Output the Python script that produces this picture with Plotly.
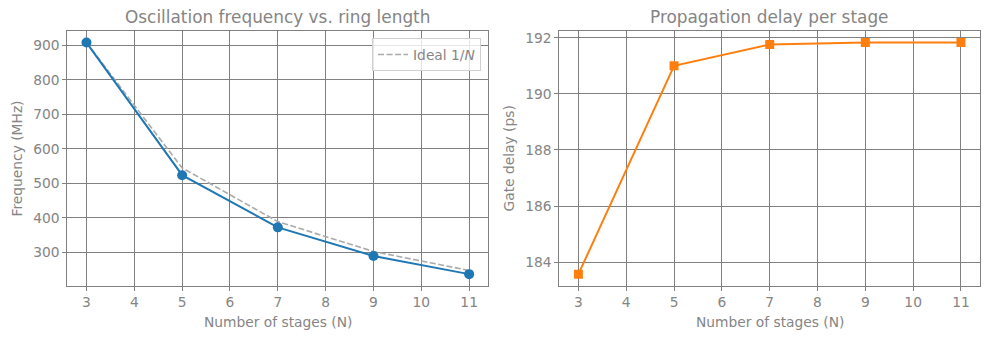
import plotly.graph_objects as go

stages = [3, 5, 7, 9, 11]
freq_mhz = [907.8, 523.6, 372.5, 289.7, 237.0]
ideal_mhz = [907.8, 544.7, 389.1, 302.6, 247.6]
delay_ps = [183.57, 191.0, 191.76, 191.83, 191.83]
x_ticks = [3, 4, 5, 6, 7, 8, 9, 10, 11]
freq_ticks = [300, 400, 500, 600, 700, 800, 900]
delay_ticks = [184, 186, 188, 190, 192]

GRAY = "#808080"
TXT = "#858585"
FONT = "DejaVu Sans"
FS = 13.8
TFS = 16.9

fig = go.Figure()
fig.add_trace(go.Scatter(x=stages, y=ideal_mhz, mode="lines", name="Ideal 1/<i>N</i>",
                         line=dict(color="#aaaaaa", width=1.6, dash="6px,2.5px"),
                         xaxis="x", yaxis="y", showlegend=True))
fig.add_trace(go.Scatter(x=stages, y=freq_mhz, mode="lines+markers", name="Measured",
                         line=dict(color="#1f77b4", width=2),
                         marker=dict(symbol="circle", size=10, color="#1f77b4"),
                         xaxis="x", yaxis="y", showlegend=False))
fig.add_trace(go.Scatter(x=stages, y=delay_ps, mode="lines+markers", name="Delay",
                         line=dict(color="#ff7f0e", width=2),
                         marker=dict(symbol="square", size=9, color="#ff7f0e"),
                         xaxis="x2", yaxis="y2", showlegend=False))

ax_common = dict(showline=True, mirror=True, linecolor=GRAY, linewidth=1,
                 showgrid=True, gridcolor=GRAY, gridwidth=1, zeroline=False,
                 ticks="outside", ticklen=4, tickcolor=GRAY, tickwidth=1,
                 tickfont=dict(family=FONT, size=FS, color=TXT))

ydom = [0.1597, 0.9088]
fig.update_layout(
    width=989, height=340,
    margin=dict(l=0, r=0, t=0, b=0),
    paper_bgcolor="white", plot_bgcolor="white",
    font=dict(family=FONT, color=TXT, size=FS),
    xaxis=dict(domain=[0.0681, 0.4937], range=[2.6, 11.4], tickvals=x_ticks,
               anchor="y", **ax_common),
    yaxis=dict(domain=ydom, range=[203.5, 941.3], tickvals=freq_ticks,
               anchor="x", **ax_common),
    xaxis2=dict(domain=[0.5655, 0.991], range=[2.6, 11.4], tickvals=x_ticks,
                anchor="y2", **ax_common),
    yaxis2=dict(domain=ydom, range=[183.16, 192.24], tickvals=delay_ticks,
                anchor="x2", **ax_common),
    legend=dict(x=0.4864, y=0.888, xanchor="right", yanchor="top",
                bgcolor="rgba(255,255,255,0.8)", bordercolor="#d0d0d0", borderwidth=1,
                font=dict(family=FONT, size=FS, color=TXT), itemwidth=30),
    annotations=[
        dict(text="Oscillation frequency vs. ring length", x=0.2809, y=1 - 17 / 340,
             xref="paper", yref="paper", showarrow=False,
             font=dict(family=FONT, size=TFS, color=TXT), xanchor="center", yanchor="middle"),
        dict(text="Propagation delay per stage", x=0.7782, y=1 - 17 / 340,
             xref="paper", yref="paper", showarrow=False,
             font=dict(family=FONT, size=TFS, color=TXT), xanchor="center", yanchor="middle"),
        dict(text="Number of stages (N)", x=0.2809, y=1 - 321.5 / 340,
             xref="paper", yref="paper", showarrow=False,
             font=dict(family=FONT, size=FS, color=TXT), xanchor="center", yanchor="middle"),
        dict(text="Number of stages (N)", x=0.7782, y=1 - 321.5 / 340,
             xref="paper", yref="paper", showarrow=False,
             font=dict(family=FONT, size=FS, color=TXT), xanchor="center", yanchor="middle"),
        dict(text="Frequency (MHz)", x=17 / 989, y=0.534, textangle=-90,
             xref="paper", yref="paper", showarrow=False,
             font=dict(family=FONT, size=FS, color=TXT), xanchor="center", yanchor="middle"),
        dict(text="Gate delay (ps)", x=509 / 989, y=0.534, textangle=-90,
             xref="paper", yref="paper", showarrow=False,
             font=dict(family=FONT, size=FS, color=TXT), xanchor="center", yanchor="middle"),
    ],
)

fig.write_html("out.html")
